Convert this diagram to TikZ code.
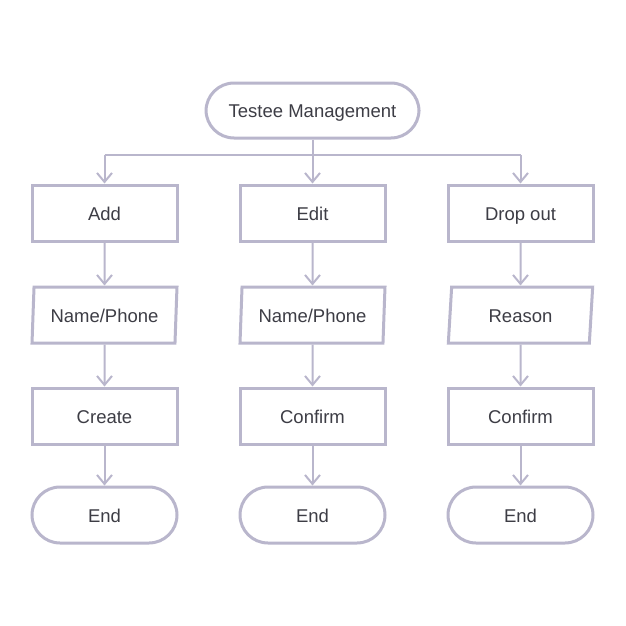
\documentclass[tikz,border=0pt]{standalone}
\usepackage{fontspec}
\setmainfont{Liberation Sans}
\usetikzlibrary{arrows.meta,shapes.geometric}
\definecolor{edge}{HTML}{B9B6CC}
\definecolor{txt}{HTML}{3D3D45}
\tikzset{
  base/.style={draw=edge,line width=3pt,fill=white,text=txt,font=\fontsize{18.5}{22}\selectfont,inner sep=0pt,text height=15pt,text depth=1pt},
  procbox/.style={base,rectangle,minimum width=145pt,minimum height=56pt},
  termbox/.style={base,rectangle,rounded corners=28pt,minimum width=145pt,minimum height=56pt},
  iobox/.style={base,trapezium,trapezium left angle=84.5,trapezium right angle=95.5,trapezium stretches=true,minimum width=145pt,minimum height=56pt},
  conn/.style={draw=edge,line width=2pt,-{Straight Barb[length=9pt,width=15pt,line width=2pt]}},
  plain/.style={draw=edge,line width=2pt}
}
\begin{document}
\begin{tikzpicture}[x=1pt,y=-1pt]
\useasboundingbox (0,0) rectangle (626,626);
\node[termbox,minimum width=213pt,minimum height=55pt] (top) at (312.5,110.5) {Testee Management};
\node[procbox] (a1) at (104.5,213) {Add};
\node[procbox] (b1) at (312.5,213) {Edit};
\node[procbox] (c1) at (520.5,213) {Drop out};
\node[iobox] (a2) at (104.5,315) {Name/Phone};
\node[iobox] (b2) at (312.5,315) {Name/Phone};
\node[iobox] (c2) at (520.5,315) {Reason};
\node[procbox] (a3) at (104.5,416) {Create};
\node[procbox] (b3) at (312.5,416) {Confirm};
\node[procbox] (c3) at (520.5,416) {Confirm};
\node[termbox] (a4) at (104.5,515) {End};
\node[termbox] (b4) at (312.5,515) {End};
\node[termbox] (c4) at (520.5,515) {End};
\coordinate (hub) at (312.5,155);
\coordinate (hl) at (104.5,155);
\coordinate (hr) at (520.5,155);
\draw[plain] (top.south) -- (hub);
\draw[plain] (hl) -- (hr);
\draw[conn] (hl) -- (a1.north);
\draw[conn] (hub) -- (b1.north);
\draw[conn] (hr) -- (c1.north);
\foreach \c in {a,b,c}{
  \draw[conn] (\c1.south) -- (\c2.north);
  \draw[conn] (\c2.south) -- (\c3.north);
  \draw[conn] (\c3.south) -- (\c4.north);
}
\end{tikzpicture}
\end{document}
